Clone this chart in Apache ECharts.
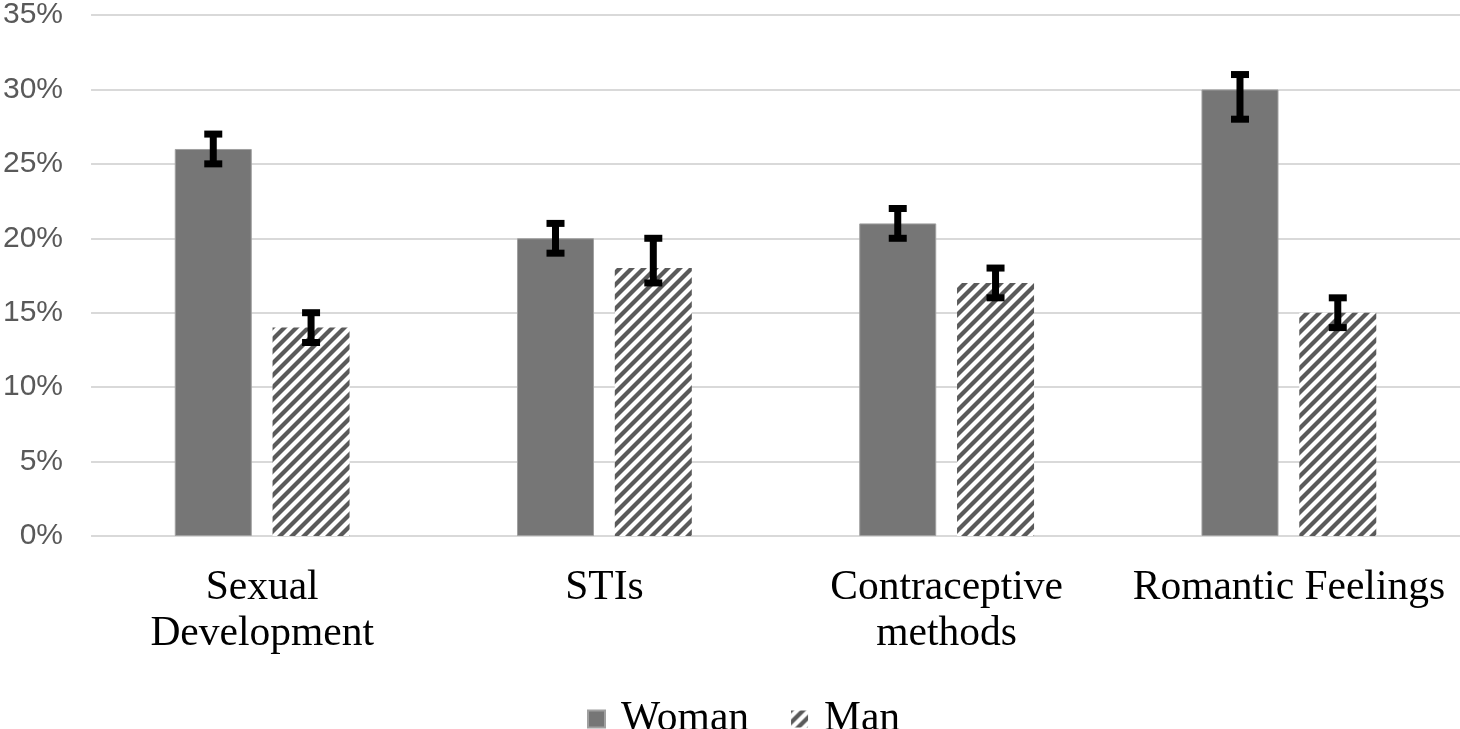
<!DOCTYPE html>
<html>
<head>
<meta charset="utf-8">
<script src="https://cdn.jsdelivr.net/npm/echarts@6/dist/echarts.min.js"></script>
<style>
html,body{margin:0;padding:0;background:#fff;}
#chart{width:1460px;height:729px;}
</style>
</head>
<body>
<div id="chart"></div>
<script>
const categories = ['Sexual\nDevelopment', 'STIs', 'Contraceptive\nmethods', 'Romantic Feelings'];
const womanValues = [26, 20, 21, 30];
const manValues = [14, 18, 17, 15];
const womanLow = [25, 19, 20, 28];
const womanHigh = [27, 21, 22, 31];
const manLow = [13, 17, 16, 14];
const manHigh = [15, 20, 18, 16];
const yTicks = [0, 5, 10, 15, 20, 25, 30, 35];

const BAR_W = 0.225; // fraction of band
const BAR_GAP = 0.27; // fraction of bar width

function makeHatch() {
  const s = 12;
  const c = document.createElement('canvas');
  c.width = s; c.height = s;
  const ctx = c.getContext('2d');
  ctx.fillStyle = '#ffffff';
  ctx.fillRect(0, 0, s, s);
  ctx.strokeStyle = '#5a5a5a';
  ctx.lineWidth = 4.2;
  ctx.lineCap = 'square';
  for (let k = -1; k <= 1; k++) {
    ctx.beginPath();
    ctx.moveTo(k * s - 2, s + 2);
    ctx.lineTo(k * s + s + 2, -2);
    ctx.stroke();
  }
  return c;
}
const hatch = makeHatch();

function errorSeries(name, low, high, sign) {
  return {
    type: 'custom',
    name: name + ' err',
    z: 10,
    silent: true,
    data: categories.map((c, i) => [i, low[i], high[i]]),
    renderItem: function (params, api) {
      const i = api.value(0);
      const band = api.size([1, 0])[0];
      const bw = band * BAR_W;
      const off = (bw + bw * BAR_GAP) / 2 * sign;
      const pLow = api.coord([i, api.value(1)]);
      const pHigh = api.coord([i, api.value(2)]);
      const x = pLow[0] + off;
      const capW = 18, capH = 7, stemW = 7;
      const style = { fill: '#000' };
      return {
        type: 'group',
        children: [
          { type: 'rect', shape: { x: x - stemW / 2, y: pHigh[1], width: stemW, height: pLow[1] - pHigh[1] }, style: style },
          { type: 'rect', shape: { x: x - capW / 2, y: pHigh[1] - capH / 2, width: capW, height: capH }, style: style },
          { type: 'rect', shape: { x: x - capW / 2, y: pLow[1] - capH / 2, width: capW, height: capH }, style: style }
        ]
      };
    }
  };
}

const chart = echarts.init(document.getElementById('chart'), null, { renderer: 'canvas' });
chart.setOption({
  backgroundColor: '#ffffff',
  animation: false,
  grid: { left: 88, right: 0, top: 8, bottom: 193, containLabel: false },
  legend: {
    data: ['Woman', 'Man'],
    left: 582,
    top: 693,
    itemWidth: 17,
    itemHeight: 17,
    itemGap: 42,
    icon: 'rect',
    textStyle: { fontFamily: 'Liberation Serif', fontSize: 41.5, color: '#000', padding: [0, 0, 0, 11] }
  },
  xAxis: {
    type: 'category',
    data: categories,
    axisLine: { show: false },
    axisTick: { show: false },
    axisLabel: {
      margin: 29,
      fontFamily: 'Liberation Serif',
      fontSize: 41.5,
      lineHeight: 46,
      color: '#000',
      interval: 0
    }
  },
  yAxis: {
    type: 'value',
    min: yTicks[0],
    max: yTicks[yTicks.length - 1],
    interval: 5,
    axisLine: { show: false },
    axisTick: { show: false },
    splitLine: { lineStyle: { color: '#d9d9d9', width: 2 } },
    axisLabel: {
      formatter: '{value}%',
      margin: 28,
      fontFamily: 'Liberation Sans',
      fontSize: 30,
      color: '#595959',
      padding: [5, 0, 0, 0]
    }
  },
  series: [
    {
      name: 'Woman',
      type: 'bar',
      data: womanValues,
      barWidth: (BAR_W * 100) + '%',
      barGap: (BAR_GAP * 100) + '%',
      itemStyle: { color: '#767676', borderColor: '#a0a0a0', borderWidth: 1 }
    },
    {
      name: 'Man',
      type: 'bar',
      data: manValues,
      barWidth: (BAR_W * 100) + '%',
      barGap: (BAR_GAP * 100) + '%',
      itemStyle: { color: { image: hatch, repeat: 'repeat' } }
    },
    errorSeries('Woman', womanLow, womanHigh, -1),
    errorSeries('Man', manLow, manHigh, 1)
  ]
});
</script>
</body>
</html>
